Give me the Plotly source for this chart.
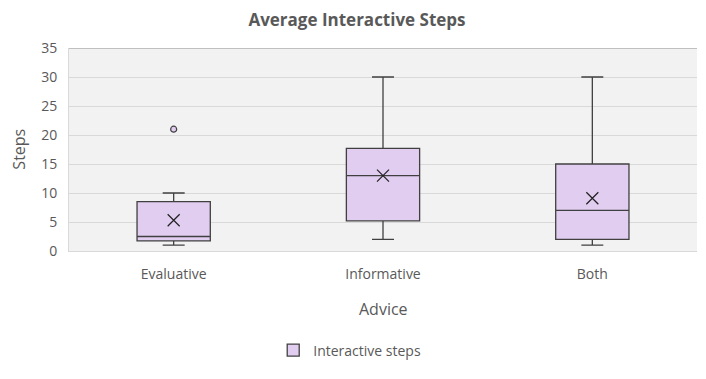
import plotly.graph_objects as go

categories = ["Evaluative", "Informative", "Both"]
q1 = [1.75, 5.2, 2]
median = [2.5, 13, 7]
q3 = [8.5, 17.7, 15]
lower = [1, 2, 1]
upper = [10, 30, 30]
means = [5.3, 13, 9.1]
outlier_cat = ["Evaluative"]
outlier_val = [21]

FONT = "'Open Sans', 'Noto Sans', sans-serif"
fill = "#E1CDF0"
edge = "#404040"
txt = "#595959"

fig = go.Figure()
fig.add_trace(go.Box(
    x=categories, q1=q1, median=median, q3=q3,
    lowerfence=lower, upperfence=upper,
    name="Interactive steps", fillcolor=fill,
    line=dict(color=edge, width=1.3), whiskerwidth=0.3,
    boxpoints=False, showlegend=True, hoverinfo="y",
))
fig.add_trace(go.Scatter(
    x=categories, y=means, mode="markers", showlegend=False,
    marker=dict(symbol="x-thin-open", size=12, color="#222222",
                line=dict(color="#222222", width=1.2)),
))
fig.add_trace(go.Scatter(
    x=outlier_cat, y=outlier_val, mode="markers", showlegend=False,
    marker=dict(symbol="circle", size=6, color=fill, line=dict(color=edge, width=1.2)),
))

fig.update_layout(
    width=698, height=371,
    margin=dict(l=61, r=9, t=40, b=128, autoexpand=False),
    paper_bgcolor="white", plot_bgcolor="#F2F2F2",
    font=dict(family=FONT, color=txt, size=14),
    title=dict(text="<b>Average Interactive Steps</b>", x=0.5, xanchor="center",
               y=0.968, yref="container", yanchor="middle",
               font=dict(size=17, color=txt, family=FONT)),
    boxgap=0.5,
    showlegend=True,
    legend=dict(orientation="h", x=0.447, xanchor="center", y=-0.49, yanchor="middle",
                itemwidth=30, font=dict(size=14, color=txt)),
    xaxis=dict(showgrid=False, showline=True, linecolor="#D9D9D9",
               tickfont=dict(size=14), ticks="", automargin=False,
               ticklabelstandoff=10),
    yaxis=dict(range=[0, 35], dtick=5, gridcolor="#D9D9D9", zeroline=True,
               zerolinecolor="#D9D9D9", showline=True, linecolor="#D9D9D9",
               tickfont=dict(size=14), ticks="", automargin=False,
               ticklabelstandoff=8),
    annotations=[
        dict(text="Advice", xref="paper", yref="paper", x=0.5, y=-0.285,
             xanchor="center", yanchor="middle", showarrow=False,
             font=dict(size=16, color=txt)),
        dict(text="Steps", xref="paper", yref="paper", x=-0.081, y=0.5,
             xanchor="center", yanchor="middle", showarrow=False, textangle=-90,
             font=dict(size=16, color=txt)),
    ],
    shapes=[dict(type="line", xref="paper", yref="y", x0=0, x1=1, y0=35, y1=35,
                 line=dict(color="#8C8C8C", width=1))],
)

fig.write_html("out.html")
